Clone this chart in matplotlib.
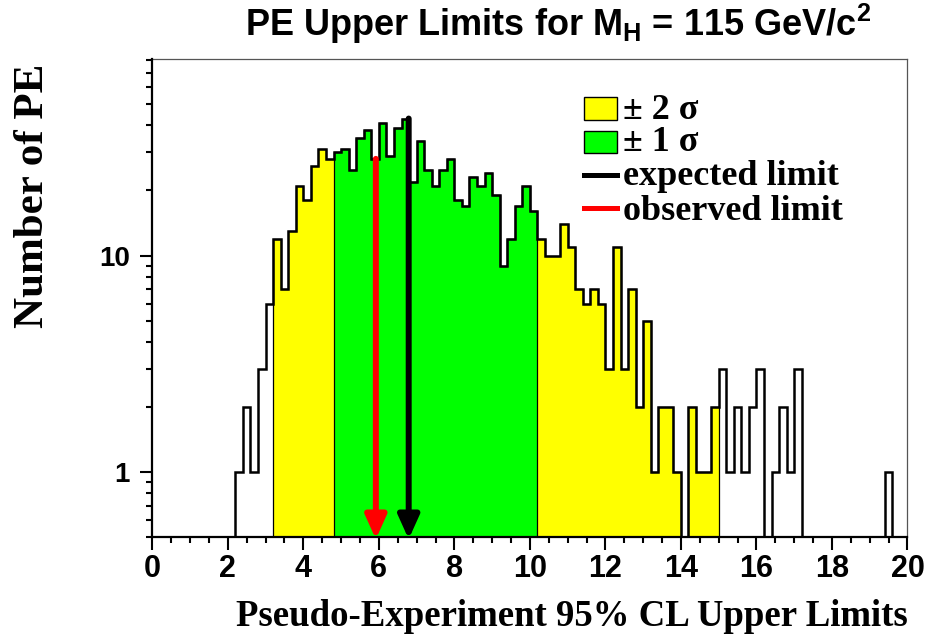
import numpy as np
import matplotlib
matplotlib.use("Agg")
import matplotlib.pyplot as plt
from matplotlib.ticker import MultipleLocator, LogLocator, NullFormatter, FixedLocator, FixedFormatter
from matplotlib.patches import Rectangle
from matplotlib.lines import Line2D

# Histogram of pseudo-experiment upper limits, 100 bins from 0 to 20
bin_lo = 0.0
bin_hi = 20.0
n_bins = 100
counts = [0, 0, 0, 0, 0, 0, 0, 0, 0, 0, 0,            # 0.0 - 2.2
          1, 2, 1, 3, 6,                               # 2.2 - 3.2
          12, 7, 13, 21, 18, 26, 31, 28,               # 3.2 - 4.8
          30, 31, 25, 35, 38, 28, 41, 29, 39, 43,      # 4.8 - 6.8
          22, 34, 25, 21, 25, 28, 18, 17, 23, 21,      # 6.8 - 8.8
          24, 19, 9, 12, 17, 21, 16,                   # 8.8 - 10.2
          12, 10, 10, 14, 11, 7, 6, 7, 6, 3,           # 10.2 - 12.2
          11, 3, 7, 2, 5, 1, 2, 2, 1, 0,               # 12.2 - 14.2
          2, 1, 1, 2,                                  # 14.2 - 15.0
          3, 1, 2, 1, 2, 3, 0, 1, 2, 1, 3,             # 15.0 - 17.2
          0, 0, 0, 0, 0, 0, 0, 0, 0, 0, 0,             # 17.2 - 19.4
          1, 0, 0]                                     # 19.4 - 20.0

band_2sigma = (3.2, 15.0)
band_1sigma = (4.8, 10.2)
expected_limit = 6.79
observed_limit = 5.92

title_txt = r"PE Upper Limits for M$_\mathregular{H}$ = 115 GeV/c$^\mathregular{2}$"
xlabel_txt = "Pseudo-Experiment 95% CL Upper Limits"
ylabel_txt = "Number of PE"
legend_txt = ["\u00b1 2 \u03c3", "\u00b1 1 \u03c3", "expected limit", "observed limit"]

W, H = 929, 636
ymin, ymax = 0.5, 81

def fx(px):
    return px / W

def fy(py):
    return 1 - py / H

fig = plt.figure(figsize=(W / 100, H / 100), dpi=100)
ax = fig.add_axes([fx(152.3), fy(537.3), (907.5 - 152.3) / W, (537.3 - 59) / H])

edges = np.linspace(bin_lo, bin_hi, n_bins + 1)
c = np.array(counts, dtype=float)
c_draw = np.where(c > 0, c, 0.05)

# coloured bands: fill only the bins inside each band
for (lo, hi), col in [(band_2sigma, "#ffff00"), (band_1sigma, "#00ff00")]:
    i0 = int(round((lo - bin_lo) / (edges[1] - edges[0])))
    i1 = int(round((hi - bin_lo) / (edges[1] - edges[0])))
    ax.stairs(c_draw[i0:i1], edges[i0:i1 + 1], baseline=0.05, fill=True, color=col, zorder=1)
    ax.stairs(c_draw[i0:i1], edges[i0:i1 + 1], baseline=0.05, color="black", lw=0.9, zorder=2)

# histogram outline
ax.stairs(c_draw, edges, baseline=0.05, color="black", lw=1.8, zorder=3)

# limit arrows, starting at the bin content where the limit falls
bw = edges[1] - edges[0]
for lim, col in [(observed_limit, "red"), (expected_limit, "black")]:
    top = c[int((lim - bin_lo) / bw)]
    ax.annotate("", xy=(lim, ymin * 0.98), xytext=(lim, top),
                arrowprops=dict(arrowstyle="-|>,head_length=1.0,head_width=0.45",
                                mutation_scale=14, lw=4.3, color=col,
                                shrinkA=0, shrinkB=0),
                annotation_clip=False, zorder=5)

ax.set_xlim(bin_lo, bin_hi)
ax.set_yscale("log")
ax.set_ylim(ymin, ymax)

# ticks
ax.xaxis.set_major_locator(MultipleLocator(2))
ax.xaxis.set_minor_locator(MultipleLocator(0.5))
ax.yaxis.set_major_locator(FixedLocator([1, 10]))
ax.yaxis.set_major_formatter(FixedFormatter(["1", "10"]))
ax.yaxis.set_minor_locator(LogLocator(base=10, subs=np.arange(2, 10)))
ax.yaxis.set_minor_formatter(NullFormatter())

ax.tick_params(which="both", direction="out", width=1.5, color="black")
ax.tick_params(which="major", length=9)
ax.tick_params(which="minor", length=4.5)
ax.tick_params(axis="x", which="major", pad=3, labelsize=22)
ax.tick_params(axis="y", which="major", pad=7, labelsize=20)
for lab in ax.get_xticklabels() + ax.get_yticklabels():
    lab.set_family("Liberation Sans")
    lab.set_fontweight("bold")

for s in ["left", "bottom"]:
    ax.spines[s].set_linewidth(1.6)
    ax.spines[s].set_color("black")
for s in ["top", "right"]:
    ax.spines[s].set_linewidth(0.9)
    ax.spines[s].set_color("#555555")
ax.spines["left"].set_zorder(6)
ax.spines["bottom"].set_zorder(6)

# title and axis titles
fig.text(fx(245), fy(36), title_txt, ha="left", va="baseline",
         family="Liberation Sans", fontweight="bold", fontsize=26)
fig.text(fx(571.5), fy(626), xlabel_txt, ha="center", va="baseline",
         family="Liberation Serif", fontweight="bold", fontsize=26.5)
fig.text(fx(43), fy(196), ylabel_txt, ha="center", va="baseline", rotation=90,
         rotation_mode="anchor", family="Liberation Serif", fontweight="bold",
         fontsize=31)

# legend drawn by hand
box_x0, box_x1 = 584, 617
fig.add_artist(Rectangle((fx(box_x0), fy(120)), (box_x1 - box_x0) / W, (120 - 96.7) / H,
                         transform=fig.transFigure, facecolor="#ffff00", edgecolor="black", lw=1))
fig.add_artist(Rectangle((fx(box_x0), fy(153.3)), (box_x1 - box_x0) / W, (153.3 - 130.7) / H,
                         transform=fig.transFigure, facecolor="#00ff00", edgecolor="black", lw=1))
fig.add_artist(Line2D([fx(box_x0), fx(box_x1)], [fy(175)] * 2, transform=fig.transFigure,
                      color="black", lw=3.6))
fig.add_artist(Line2D([fx(box_x0), fx(box_x1)], [fy(208)] * 2, transform=fig.transFigure,
                      color="red", lw=3.6))
for txt, py in zip(legend_txt, [119, 151, 185, 220]):
    fig.text(fx(623), fy(py), txt, ha="left", va="baseline",
             family="Liberation Serif", fontweight="bold", fontsize=26)

fig.savefig("out.png", dpi=100, facecolor="white")
